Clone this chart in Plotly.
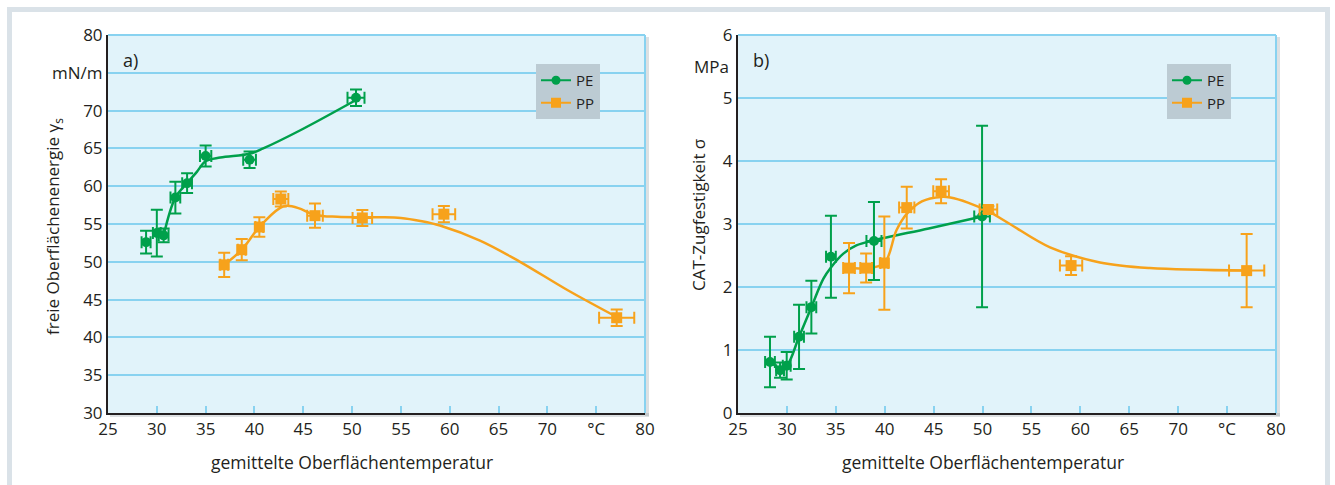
import plotly.graph_objects as go

# ---------------- data ----------------
x_ticks = [25, 30, 35, 40, 45, 50, 55, 60, 65, 70, 75, 80]
x_ticktext = ["25", "30", "35", "40", "45", "50", "55", "60", "65", "70", "°C", "80"]
ya_ticks = [30, 35, 40, 45, 50, 55, 60, 65, 70, 75, 80]
ya_ticktext = ["30", "35", "40", "45", "50", "55", "60", "65", "70", "mN/m", "80"]
yb_ticks = [0, 1, 2, 3, 4, 5, 6]
yb_ticktext = ["0", "1", "2", "3", "4", "5", "6"]

# panel a) free surface energy
pe_a_x = [28.9, 30.0, 30.7, 31.9, 33.1, 35.0, 39.5, 50.4]
pe_a_y = [52.6, 53.8, 53.5, 58.5, 60.4, 64.0, 63.5, 71.7]
pe_a_yerr = [1.5, 3.1, 0.9, 2.1, 1.3, 1.4, 1.1, 1.1]
pe_a_xerr = [0.46, 0.4, 0.5, 0.5, 0.5, 0.58, 0.65, 0.87]
pe_a_fit_x = [30.7, 31.9, 33.1, 34.1, 35.0, 36.5, 39.5, 40.9, 44.7, 50.4]
pe_a_fit_y = [53.5, 58.5, 60.4, 61.9, 63.3, 63.8, 64.3, 65.0, 67.4, 71.4]

pp_a_x = [36.9, 38.7, 40.5, 42.7, 46.2, 51.05, 59.4, 77.1]
pp_a_y = [49.6, 51.6, 54.6, 58.3, 56.1, 55.8, 56.3, 42.6]
pp_a_yerr = [1.6, 1.4, 1.3, 1.0, 1.6, 1.06, 1.08, 1.08]
pp_a_xerr = [0.4, 0.4, 0.4, 0.77, 0.8, 1.0, 1.16, 1.8]
pp_a_fit_x = [36.9, 38.7, 40.5, 42.6, 43.3, 44.5, 46.2, 48.5, 51.05, 53.0, 55.0, 57.0, 59.0, 63.1, 67.2, 72.0, 77.1]
pp_a_fit_y = [49.6, 51.6, 54.6, 57.1, 57.4, 57.1, 56.2, 55.95, 55.9, 55.9, 55.8, 55.4, 54.8, 52.8, 50.0, 46.3, 42.7]

# panel b) CAT tensile strength
pe_b_x = [28.27, 29.3, 29.98, 31.24, 32.5, 34.5, 38.9, 49.95]
pe_b_y = [0.81, 0.68, 0.75, 1.21, 1.68, 2.48, 2.73, 3.12]
pe_b_yerr = [0.4, 0.12, 0.22, 0.51, 0.42, 0.65, 0.62, 1.44]
pe_b_xerr = [0.5, 0.4, 0.4, 0.5, 0.5, 0.5, 0.77, 0.8]
pe_b_fit_x = [28.27, 29.3, 29.98, 31.24, 32.5, 33.72, 34.5, 35.77, 37.1, 38.9, 44.5, 49.95]
pe_b_fit_y = [0.81, 0.72, 0.75, 1.21, 1.68, 2.13, 2.31, 2.53, 2.66, 2.74, 2.93, 3.12]

pp_b_x = [36.35, 38.1, 39.96, 42.25, 45.76, 50.6, 59.05, 77.0]
pp_b_y = [2.30, 2.30, 2.38, 3.26, 3.52, 3.23, 2.34, 2.26]
pp_b_yerr = [0.4, 0.23, 0.74, 0.33, 0.19, 0.05, 0.15, 0.58]
pp_b_xerr = [0.6, 0.6, 0.4, 0.78, 0.8, 0.9, 1.14, 1.8]
pp_b_fit_x = [36.35, 38.1, 39.96, 41.2, 42.25, 43.8, 45.8, 46.7, 48.5, 50.6, 52.8, 56.9, 62.0, 67.1, 77.0]
pp_b_fit_y = [2.30, 2.30, 2.38, 2.90, 3.16, 3.36, 3.43, 3.42, 3.34, 3.20, 3.00, 2.63, 2.39, 2.30, 2.26]

# ---------------- styling ----------------
W, H = 1335, 485
FONT = "Open Sans"
TXT = "#231f20"
GREEN = "#00a04b"
ORANGE = "#f7a21b"
BG = "#e1f3fa"
GRID = "#88d2f0"


def fx(p):
    return p / W


def fy(p):
    return 1 - p / H


fig = go.Figure()


def add_panel(xa, ya, pe, pp, legend):
    (pex, pey, pexe, peye, pefx, pefy) = pe
    (ppx, ppy, ppxe, ppye, ppfx, ppfy) = pp
    for fxv, fyv, col in ((pefx, pefy, GREEN), (ppfx, ppfy, ORANGE)):
        fig.add_trace(go.Scatter(x=fxv, y=fyv, mode="lines", xaxis=xa, yaxis=ya,
                                 line=dict(color=col, width=2.5, shape="spline", smoothing=1.0),
                                 showlegend=False, hoverinfo="skip"))
    for x, y, xe, ye, col, sym, sz in ((pex, pey, pexe, peye, GREEN, "circle", 10),
                                       (ppx, ppy, ppxe, ppye, ORANGE, "square", 11)):
        fig.add_trace(go.Scatter(x=x, y=y, mode="markers", xaxis=xa, yaxis=ya,
                                 marker=dict(color=col, symbol=sym, size=sz),
                                 error_y=dict(type="data", array=ye, color=col, thickness=2, width=6),
                                 error_x=dict(type="data", array=xe, color=col, thickness=2, width=6),
                                 showlegend=False))
    for name, col, sym, sz in (("PE", GREEN, "circle", 9), ("PP", ORANGE, "square", 10)):
        fig.add_trace(go.Scatter(x=[None], y=[None], mode="lines+markers", name=name,
                                 xaxis=xa, yaxis=ya, legend=legend,
                                 line=dict(color=col, width=2),
                                 marker=dict(color=col, symbol=sym, size=sz)))


add_panel("x", "y",
          (pe_a_x, pe_a_y, pe_a_xerr, pe_a_yerr, pe_a_fit_x, pe_a_fit_y),
          (pp_a_x, pp_a_y, pp_a_xerr, pp_a_yerr, pp_a_fit_x, pp_a_fit_y), "legend")
add_panel("x2", "y2",
          (pe_b_x, pe_b_y, pe_b_xerr, pe_b_yerr, pe_b_fit_x, pe_b_fit_y),
          (pp_b_x, pp_b_y, pp_b_xerr, pp_b_yerr, pp_b_fit_x, pp_b_fit_y), "legend2")

xdomA = [fx(108), fx(645)]
xdomB = [fx(738), fx(1276)]
ydom = [fy(413), fy(35)]

xcommon = dict(range=[25, 80], tickvals=x_ticks, ticktext=x_ticktext, showgrid=False,
               zeroline=False, ticks="inside", ticklen=7, tickwidth=1.5, tickcolor=GRID,
               showline=True, linecolor=TXT, linewidth=2, automargin=False,
               tickfont=dict(family=FONT, size=17, color=TXT))
ycommon = dict(showgrid=True, gridcolor=GRID, gridwidth=1.5, zeroline=False, ticks="",
               showline=True, linecolor=TXT, linewidth=2, automargin=False,
               tickfont=dict(family=FONT, size=17, color=TXT))

legcommon = dict(xanchor="left", yanchor="top", bgcolor="#bccbd3", borderwidth=0,
                 font=dict(family=FONT, size=15, color=TXT), tracegroupgap=0, itemwidth=30)

fig.update_layout(
    width=W, height=H,
    margin=dict(l=0, r=0, t=0, b=0, pad=0, autoexpand=False),
    paper_bgcolor="white", plot_bgcolor=BG,
    font=dict(family=FONT, size=17, color=TXT),
    xaxis=dict(domain=xdomA, anchor="y", **xcommon),
    yaxis=dict(domain=ydom, anchor="x", range=[30, 80], tickvals=ya_ticks,
               ticktext=ya_ticktext, **ycommon),
    xaxis2=dict(domain=xdomB, anchor="y2", **xcommon),
    yaxis2=dict(domain=ydom, anchor="x2", range=[0, 6], tickvals=yb_ticks,
                ticktext=yb_ticktext, **ycommon),
    legend=dict(x=fx(536), y=fy(64), **legcommon),
    legend2=dict(x=fx(1167), y=fy(64), **legcommon),
)

shapes = [
    # outer frame
    dict(type="rect", xref="paper", yref="paper", x0=fx(9.5), x1=fx(1327.5), y0=-0.1, y1=fy(9.5),
         line=dict(color="#dae2e8", width=5), fillcolor="rgba(0,0,0,0)", layer="below"),
]
for xd in (xdomA, xdomB):
    # shadows right and bottom of plot area
    shapes.append(dict(type="rect", xref="paper", yref="paper", x0=xd[1], x1=xd[1] + fx(4),
                       y0=ydom[0] - 3 / H, y1=ydom[1] - 2 / H, fillcolor="rgba(120,130,140,0.25)",
                       line=dict(width=0), layer="below"))
    shapes.append(dict(type="rect", xref="paper", yref="paper", x0=xd[0] + fx(2), x1=xd[1] + fx(4),
                       y0=ydom[0] - 4 / H, y1=ydom[0], fillcolor="rgba(120,130,140,0.25)",
                       line=dict(width=0), layer="below"))
    # light blue top/right border
    shapes.append(dict(type="line", xref="paper", yref="paper", x0=xd[0], x1=xd[1],
                       y0=ydom[1], y1=ydom[1], line=dict(color=GRID, width=2)))
    shapes.append(dict(type="line", xref="paper", yref="paper", x0=xd[1], x1=xd[1],
                       y0=ydom[0], y1=ydom[1], line=dict(color=GRID, width=2)))
fig.update_layout(shapes=shapes)

annotations = [
    dict(text="a)", x=fx(121), y=fy(60), xref="paper", yref="paper", xanchor="left",
         yanchor="middle", showarrow=False, font=dict(family=FONT, size=18, color=TXT)),
    dict(text="b)", x=fx(751), y=fy(60), xref="paper", yref="paper", xanchor="left",
         yanchor="middle", showarrow=False, font=dict(family=FONT, size=18, color=TXT)),
    dict(text="freie Oberflächenenergie γ<sub>s</sub>", x=fx(53), y=fy(227),
         xref="paper", yref="paper", textangle=-90, showarrow=False,
         xanchor="center", yanchor="middle",
         font=dict(family=FONT, size=17, color=TXT)),
    dict(text="CAT-Zugfestigkeit σ", x=fx(698), y=fy(215),
         xref="paper", yref="paper", textangle=-90, showarrow=False,
         xanchor="center", yanchor="middle",
         font=dict(family=FONT, size=17, color=TXT)),
    dict(text="gemittelte Oberflächentemperatur", x=fx(352), y=fy(462),
         xref="paper", yref="paper", showarrow=False, xanchor="center", yanchor="middle",
         font=dict(family=FONT, size=17.5, color=TXT)),
    dict(text="gemittelte Oberflächentemperatur", x=fx(983), y=fy(462),
         xref="paper", yref="paper", showarrow=False, xanchor="center", yanchor="middle",
         font=dict(family=FONT, size=17.5, color=TXT)),
    dict(text="MPa", x=xdomB[0] - fx(7), y=5.5, xref="paper", yref="y2",
         xanchor="right", yanchor="middle", showarrow=False,
         font=dict(family=FONT, size=17, color=TXT)),
]
fig.update_layout(annotations=annotations)

fig.write_html("out.html", config={"displayModeBar": False},
               post_script="document.body.style.margin='0px';document.body.style.padding='0px';")
